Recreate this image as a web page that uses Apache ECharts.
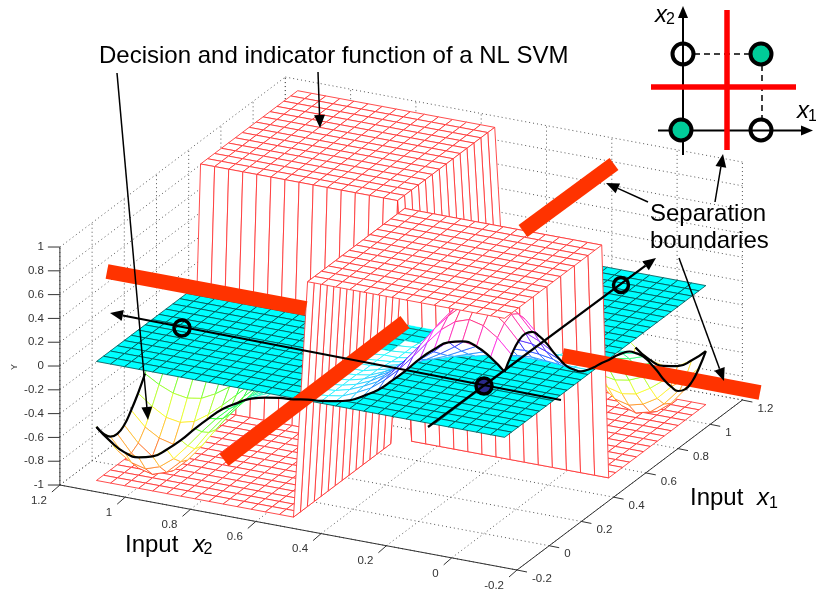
<!DOCTYPE html>
<html><head><meta charset="utf-8">
<style>html,body{margin:0;padding:0;background:#fff}#c{width:816px;height:593px}</style>
<script src="https://cdn.jsdelivr.net/npm/echarts@6/dist/echarts.min.js"></script>
</head><body><div id="c"></div>
<script>
// ---------- values ----------
const meshCoords = [-0.125,-0.0819,-0.0388,0.0043,0.0474,0.0905,0.1336,0.1767,0.2198,0.2629,0.306,0.3491,0.3922,0.4353,0.4784,0.5216,0.5647,0.6078,0.6509,0.694,0.7371,0.7802,0.8233,0.8664,0.9095,0.9526,0.9957,1.0388,1.0819,1.125];
// decision function over the low-x1 / low-x2 quarter of the mesh; the other quarters mirror it with the XOR signs
const decisionQuarter = [
[.55,.65,.72,.74,.71,.63,.53,.41,.30,.20,.13,.07,.04,.02,.01],
[.65,.77,.85,.88,.84,.75,.62,.48,.35,.24,.15,.09,.04,.02,.01],
[.72,.85,.94,.97,.93,.82,.69,.53,.39,.26,.16,.10,.05,.02,.01],
[.74,.88,.97,1,.96,.85,.71,.55,.40,.27,.17,.10,.05,.02,.01],
[.71,.84,.93,.96,.92,.82,.68,.53,.38,.26,.16,.10,.05,.02,.01],
[.63,.75,.82,.85,.82,.72,.60,.47,.34,.23,.14,.09,.04,.02,.01],
[.53,.62,.69,.71,.68,.60,.50,.39,.28,.19,.12,.07,.04,.01,.01],
[.41,.48,.53,.55,.53,.47,.39,.30,.22,.15,.09,.06,.03,.01,.01],
[.30,.35,.39,.40,.38,.34,.28,.22,.16,.11,.07,.04,.02,.01,0],
[.20,.24,.26,.27,.26,.23,.19,.15,.11,.07,.05,.03,.01,.01,0],
[.13,.15,.16,.17,.16,.14,.12,.09,.07,.05,.03,.02,.01,0,0],
[.07,.09,.10,.10,.10,.09,.07,.06,.04,.03,.02,.01,.01,0,0],
[.04,.04,.05,.05,.05,.04,.04,.03,.02,.01,.01,.01,0,0,0],
[.02,.02,.02,.02,.02,.02,.01,.01,.01,.01,0,0,0,0,0],
[.01,.01,.01,.01,.01,.01,.01,.01,0,0,0,0,0,0,0]];
const boundaryX1 = 0.5, boundaryX2 = 0.5;
const planeLevel = 0;
const yTicks = [-1,-0.8,-0.6,-0.4,-0.2,0,0.2,0.4,0.6,0.8,1];
const x1Ticks = [-0.2,0,0.2,0.4,0.6,0.8,1,1.2];
const x2Ticks = [-0.2,0,0.2,0.4,0.6,0.8,1,1.2];
const insetHollow = [[683,54],[761,130]];
const insetFilled = [[761,54],[681,130]];

// ---------- 3-D axes: orthographic projection onto the page scale ----------
function project(x1,x2,y){
  return [517+(x1+0.2)*161-(x2+0.2)*326.5, 570-(x1+0.2)*121.4-(x2+0.2)*60.7-(y+1)*119];
}
const N = meshCoords.length, WALL = 14;
function decision(i,j){
  const a=i<15?i:29-i, b=j<15?j:29-j;
  return decisionQuarter[a][b]*((i<15)===(j<15)?1:-1);
}
function indicator(i,j){
  return (meshCoords[i]<boundaryX1)===(meshCoords[j]<boundaryX2)?1:-1;
}
function plane(){return planeLevel;}
function hsvMap(y){return 'hsl('+Math.round((y+1)*180)+',100%,50%)';}
const surfaces=[
 {h:indicator,fill:'#fff',line:()=>'#ff2020',lw:0.8},
 {h:decision, fill:'#fff',line:hsvMap,lw:0.7},
 {h:plane,    fill:'#00ffff',line:()=>'#003333',lw:0.7}
];
// painter's order: far cells first, lowest surface first inside a cell
const pieces=[];
for(let i=N-2;i>=0;i--)for(let j=N-2;j>=0;j--){
  const n1=i===WALL?2:1,n2=j===WALL?2:1;
  const di=meshCoords[i+1]-meshCoords[i],dj=meshCoords[j+1]-meshCoords[j];
  for(let a=n1-1;a>=0;a--)for(let b=n2-1;b>=0;b--){
    const cell=[];
    surfaces.forEach(s=>{
      const q=[s.h(i,j),s.h(i+1,j),s.h(i,j+1),s.h(i+1,j+1)];
      const at=(u,v)=>{
        const z=(1-u)*(1-v)*q[0]+u*(1-v)*q[1]+(1-u)*v*q[2]+u*v*q[3];
        return [meshCoords[i]+di*u,meshCoords[j]+dj*v,z];
      };
      const u0=a/n1,u1=(a+1)/n1,v0=b/n2,v1=(b+1)/n2;
      const c=[at(u0,v0),at(u1,v0),at(u1,v1),at(u0,v1)];
      const edges=[];
      if(b===0)edges.push([0,1]);
      if(a===n1-1)edges.push([1,2]);
      if(b===n2-1)edges.push([2,3]);
      if(a===0)edges.push([3,0]);
      cell.push({s,c,edges,m:(c[0][2]+c[1][2]+c[2][2]+c[3][2])/4});
    });
    const rank=p=>p.m+(p.s.h===plane?0.002:0);
    cell.sort((p,q)=>rank(p)-rank(q));
    cell.forEach(p=>pieces.push(p));
  }
}
function renderPiece(params,api){
  const p=pieces[params.dataIndex];
  const pts=p.c.map(v=>api.coord(project(v[0],v[1],v[2])));
  const kids=[{type:'polygon',shape:{points:pts},style:{fill:p.s.fill,stroke:p.s.fill,lineWidth:0.3}}];
  p.edges.forEach(e=>{
    const z=(p.c[e[0]][2]+p.c[e[1]][2])/2;
    kids.push({type:'line',shape:{x1:pts[e[0]][0],y1:pts[e[0]][1],x2:pts[e[1]][0],y2:pts[e[1]][1]},
      style:{stroke:p.s.line(z),lineWidth:p.s.lw}});
  });
  return {type:'group',children:kids};
}
function seg(api,a,b,style){
  const p=api.coord(a),q=api.coord(b);
  return {type:'line',shape:{x1:p[0],y1:p[1],x2:q[0],y2:q[1]},style:Object.assign({stroke:'#000',lineWidth:1},style)};
}
function label(api,t,p,style){
  const c=api.coord(p);
  return {type:'text',style:Object.assign({text:t,x:c[0],y:c[1],fill:'#000',textAlign:'left',textVerticalAlign:'middle'},style)};
}
// text placed by its baseline
function note(api,t,x,base,size,italic){
  return label(api,t,[x,base-0.27*size],{font:(italic?'italic ':'')+size+'px "Liberation Sans"'});
}
function renderBox(params,api){
  const k=[],dot={stroke:'#555',lineWidth:1,lineDash:[1,3]};
  yTicks.forEach(y=>{
    k.push(seg(api,project(-0.2,1.2,y),project(1.2,1.2,y),dot));
    k.push(seg(api,project(1.2,1.2,y),project(1.2,-0.2,y),dot));
  });
  x1Ticks.forEach(v=>{
    k.push(seg(api,project(v,-0.2,-1),project(v,1.2,-1),dot));
    k.push(seg(api,project(v,1.2,-1),project(v,1.2,1),dot));
  });
  x2Ticks.forEach(v=>{
    k.push(seg(api,project(-0.2,v,-1),project(1.2,v,-1),dot));
    k.push(seg(api,project(1.2,v,-1),project(1.2,v,1),dot));
  });
  const axis={stroke:'#333',lineWidth:1};
  k.push(seg(api,project(-0.2,1.2,-1),project(-0.2,1.2,1),axis));
  k.push(seg(api,project(-0.2,1.2,-1),project(-0.2,-0.2,-1),axis));
  k.push(seg(api,project(-0.2,-0.2,-1),project(1.2,-0.2,-1),axis));
  const tf={font:'11.5px "Liberation Sans"',fill:'#333'};
  yTicks.forEach(y=>{
    const p=project(-0.2,1.2,y);
    k.push(seg(api,p,[p[0]-12,p[1]],axis));
    k.push(label(api,String(y),[p[0]-16,p[1]],Object.assign({},tf,{textAlign:'right'})));
  });
  x1Ticks.forEach(v=>{
    const p=project(v,-0.2,-1);
    k.push(seg(api,p,[p[0]+10,p[1]+2],axis));
    k.push(label(api,String(v),[p[0]+15,p[1]+8.5],tf));
  });
  x2Ticks.forEach(v=>{
    const p=project(-0.2,v,-1);
    k.push(seg(api,p,[p[0]-8,p[1]+7],axis));
    k.push(label(api,String(v),[p[0]-13,p[1]+15.5],Object.assign({},tf,{textAlign:'right'})));
  });
  const ya=api.coord([15,367]);
  k.push({type:'text',x:ya[0],y:ya[1],rotation:Math.PI/2,style:{text:'Y',x:0,y:0,font:'9px "Liberation Sans"',fill:'#333',textAlign:'center',textVerticalAlign:'middle'}});
  return {type:'group',children:k};
}
function arrow(api,from,tip,w,head){
  const dx=tip[0]-from[0],dy=tip[1]-from[1],L=Math.hypot(dx,dy),ux=dx/L,uy=dy/L;
  const len=head||13,hw=(head||13)*0.42;
  const base=[tip[0]-ux*len,tip[1]-uy*len];
  return [seg(api,from,base,{lineWidth:w||1.5}),
    {type:'polygon',shape:{points:[tip,[base[0]-uy*hw,base[1]+ux*hw],[base[0]+uy*hw,base[1]-ux*hw]].map(p=>api.coord(p))},style:{fill:'#000'}}];
}
function circle(api,p,r,fill,lw){
  const c=api.coord(p);
  return {type:'circle',shape:{cx:c[0],cy:c[1],r},style:{fill:fill||'none',stroke:'#000',lineWidth:lw}};
}
function renderBars(params,api){
  const bar={stroke:'#ff3300',lineWidth:15};
  return {type:'group',children:[
    seg(api,[107,271.5],[306,308.5],bar),
    seg(api,[224,460],[405,322],bar),
    seg(api,[523,231],[614,164],bar),
    seg(api,[562.5,355.5],[760,392.5],bar)]};
}
function renderNotes(params,api){
  let k=[];
  k.push(circle(api,[484,386],8,'#2a2a8c',3.5));
  k=k.concat(arrow(api,[428,427],[656,258],2.2,13));
  k=k.concat(arrow(api,[561,400],[110,313],2,13));
  k.push(circle(api,[182,328],8,null,3.5));
  k.push(circle(api,[621,285],7.5,null,3.5));
  k=k.concat(arrow(api,[318,72],[320,128],1.5));
  k=k.concat(arrow(api,[117,73],[148,420],1.5));
  k=k.concat(arrow(api,[648,202],[606,183],1.5));
  k=k.concat(arrow(api,[715,202],[723,154],1.5));
  k=k.concat(arrow(api,[679,258],[724,381],1.5));
  k.push(note(api,'Decision and indicator function of a NL SVM',99,63,24));
  k.push(note(api,'Separation',650,221,24));
  k.push(note(api,'boundaries',650,247.5,24));
  k.push(note(api,'Input',125,552,24));
  k.push(note(api,'x',193,552,24,true));
  k.push(note(api,'2',203.5,553.5,16));
  k.push(note(api,'Input',690,505,24));
  k.push(note(api,'x',757,505,24,true));
  k.push(note(api,'1',769,507.5,16));
  // inset XOR sketch
  k=k.concat(arrow(api,[683,155],[683,6],2,12));
  k=k.concat(arrow(api,[658,130.5],[813,130.5],2,12));
  const dash={lineWidth:1.5,lineDash:[6,4]};
  k.push(seg(api,[694,54],[750,54],dash));
  k.push(seg(api,[762,65],[762,119],dash));
  k.push(seg(api,[727,10],[727,150],{stroke:'#ff0000',lineWidth:5.5}));
  k.push(seg(api,[651,87],[796,87],{stroke:'#ff0000',lineWidth:5.5}));
  insetHollow.forEach(p=>k.push(circle(api,p,10.5,null,4)));
  insetFilled.forEach(p=>k.push(circle(api,p,10.5,'#00cc99',4)));
  k.push(note(api,'x',655,22,24,true));
  k.push(note(api,'2',666,24,16));
  k.push(note(api,'x',797,118,24,true));
  k.push(note(api,'1',808,121,16));
  return {type:'group',children:k};
}
// outline of the decision surface along the mesh rim
function rim(list){return list.map(v=>project(meshCoords[v[0]],meshCoords[v[1]],decision(v[0],v[1])));}
const rimA=[],rimB=[],rimC=[],rimD=[];
for(let i=7;i>=0;i--)rimA.push([i,29]);
for(let j=29;j>=0;j--)rimB.push([0,j]);
for(let i=0;i<=29;i++)rimC.push([i,0]);
for(let j=0;j<=5;j++)rimD.push([29,j]);
const rimSeries=[rimA,rimB,rimC,rimD].map(r=>({type:'line',data:rim(r),smooth:0.5,showSymbol:false,symbol:'none',z:6,clip:false,silent:true,animation:false,lineStyle:{color:'#000',width:2.2}}));

const chart=echarts.init(document.getElementById('c'),null,{renderer:'canvas',width:816,height:593});
chart.setOption({
  animation:false,
  backgroundColor:'#fff',
  grid:{left:0,right:0,top:0,bottom:0},
  xAxis:{type:'value',min:0,max:816,show:false},
  yAxis:{type:'value',min:0,max:593,inverse:true,show:false},
  series:[
    {type:'custom',z:1,silent:true,clip:false,animation:false,data:[[0,0]],renderItem:renderBox},
    {type:'custom',z:2,silent:true,clip:false,animation:false,progressive:0,data:pieces.map(p=>project(p.c[0][0],p.c[0][1],p.c[0][2])),renderItem:renderPiece},
    {type:'custom',z:4,silent:true,clip:false,animation:false,data:[[0,0]],renderItem:renderBars},
    ...rimSeries,
    {type:'custom',z:7,silent:true,clip:false,animation:false,data:[[0,0]],renderItem:renderNotes}
  ]
});
</script></body></html>
